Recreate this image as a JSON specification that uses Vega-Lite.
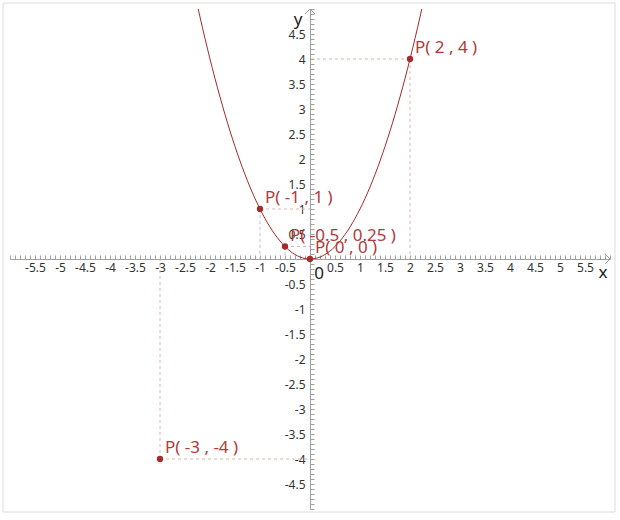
{
  "$schema": "https://vega.github.io/schema/vega-lite/v6.json",
  "width": 600,
  "height": 500,
  "autosize": "none",
  "padding": {"left": 10, "top": 9, "right": 10, "bottom": 11},
  "background": "white",
  "config": {"view": {"stroke": null}, "font": "Noto Sans"},
  "datasets": {
    "curve": [
      {"x": -2.24, "y": 5.0176}, {"x": -2.2, "y": 4.84}, {"x": -2.1, "y": 4.41}, {"x": -2.0, "y": 4.0},
      {"x": -1.9, "y": 3.61}, {"x": -1.8, "y": 3.24}, {"x": -1.7, "y": 2.89}, {"x": -1.6, "y": 2.56},
      {"x": -1.5, "y": 2.25}, {"x": -1.4, "y": 1.96}, {"x": -1.3, "y": 1.69}, {"x": -1.2, "y": 1.44},
      {"x": -1.1, "y": 1.21}, {"x": -1.0, "y": 1.0}, {"x": -0.9, "y": 0.81}, {"x": -0.8, "y": 0.64},
      {"x": -0.7, "y": 0.49}, {"x": -0.6, "y": 0.36}, {"x": -0.5, "y": 0.25}, {"x": -0.4, "y": 0.16},
      {"x": -0.3, "y": 0.09}, {"x": -0.2, "y": 0.04}, {"x": -0.1, "y": 0.01}, {"x": 0.0, "y": 0.0},
      {"x": 0.1, "y": 0.01}, {"x": 0.2, "y": 0.04}, {"x": 0.3, "y": 0.09}, {"x": 0.4, "y": 0.16},
      {"x": 0.5, "y": 0.25}, {"x": 0.6, "y": 0.36}, {"x": 0.7, "y": 0.49}, {"x": 0.8, "y": 0.64},
      {"x": 0.9, "y": 0.81}, {"x": 1.0, "y": 1.0}, {"x": 1.1, "y": 1.21}, {"x": 1.2, "y": 1.44},
      {"x": 1.3, "y": 1.69}, {"x": 1.4, "y": 1.96}, {"x": 1.5, "y": 2.25}, {"x": 1.6, "y": 2.56},
      {"x": 1.7, "y": 2.89}, {"x": 1.8, "y": 3.24}, {"x": 1.9, "y": 3.61}, {"x": 2.0, "y": 4.0},
      {"x": 2.1, "y": 4.41}, {"x": 2.2, "y": 4.84}, {"x": 2.24, "y": 5.0176}
    ],
    "points": [
      {"x": 2, "y": 4, "label": "P( 2 , 4 )"},
      {"x": -1, "y": 1, "label": "P( -1 , 1 )"},
      {"x": -0.5, "y": 0.25, "label": "P( -0.5 , 0.25 )"},
      {"x": 0, "y": 0, "label": "P( 0 , 0 )"},
      {"x": -3, "y": -4, "label": "P( -3 , -4 )"}
    ]
  },
  "layer": [
    {
      "data": {"name": "points"},
      "mark": {"type": "rule", "color": "#dcb4b4", "strokeWidth": 1, "strokeDash": [3, 3]},
      "encoding": {
        "x": {
          "field": "x", "type": "quantitative",
          "scale": {"domain": [-6, 6], "nice": false, "zero": false},
          "axis": {
            "orient": "bottom", "offset": -250, "title": null, "grid": false,
            "tickCount": 120, "tickSize": -4, "tickWidth": 1, "tickColor": "#a0a0a0",
            "domainColor": "#a0a0a0", "domainWidth": 1,
            "labelExpr": "abs(datum.value) > 0.01 && abs(datum.value) < 5.9 && abs(datum.value * 2 - round(datum.value * 2)) < 0.001 ? toString(round(datum.value * 2) / 2) : ''",
            "labelFontSize": 12, "labelColor": "#333333", "labelPadding": 7,
            "labelOverlap": false, "labelFlush": false, "labelBound": false
          }
        },
        "y": {
          "field": "y", "type": "quantitative",
          "scale": {"domain": [-5, 5], "nice": false, "zero": false},
          "axis": {
            "orient": "left", "offset": -300, "title": null, "grid": false,
            "tickCount": 100, "tickSize": -4, "tickWidth": 1, "tickColor": "#a0a0a0",
            "domainColor": "#a0a0a0", "domainWidth": 1,
            "labelExpr": "abs(datum.value) > 0.01 && abs(datum.value) < 4.9 && abs(datum.value * 2 - round(datum.value * 2)) < 0.001 ? toString(round(datum.value * 2) / 2) : ''",
            "labelFontSize": 12, "labelColor": "#333333", "labelPadding": 9,
            "labelOverlap": false, "labelFlush": false, "labelBound": false
          }
        },
        "y2": {"datum": 0}
      }
    },
    {
      "data": {"name": "points"},
      "mark": {"type": "rule", "color": "#dcb4b4", "strokeWidth": 1, "strokeDash": [3, 3]},
      "encoding": {
        "x": {"field": "x", "type": "quantitative"},
        "y": {"field": "y", "type": "quantitative"},
        "x2": {"datum": 0}
      }
    },
    {
      "data": {"values": [{"id": "border"}]},
      "mark": {"type": "rect", "filled": false, "stroke": "#dcdcdc", "strokeWidth": 1},
      "encoding": {
        "x": {"datum": -6.14, "type": "quantitative"},
        "x2": {"datum": 6.1},
        "y": {"datum": 5.12, "type": "quantitative"},
        "y2": {"datum": -5.06}
      }
    },
    {
      "data": {"name": "curve"},
      "mark": {"type": "line", "color": "#a52a2a", "strokeWidth": 1, "interpolate": "monotone", "clip": true},
      "encoding": {
        "x": {"field": "x", "type": "quantitative"},
        "y": {"field": "y", "type": "quantitative"}
      }
    },
    {
      "data": {"name": "points"},
      "mark": {"type": "point", "filled": true, "color": "#a52a2a", "size": 40, "opacity": 1},
      "encoding": {
        "x": {"field": "x", "type": "quantitative"},
        "y": {"field": "y", "type": "quantitative"}
      }
    },
    {
      "data": {"name": "points"},
      "mark": {"type": "text", "align": "left", "baseline": "middle", "dx": 5, "dy": -11, "fontSize": 17, "color": "#b03a3a"},
      "encoding": {
        "x": {"field": "x", "type": "quantitative"},
        "y": {"field": "y", "type": "quantitative"},
        "text": {"field": "label"}
      }
    },
    {
      "data": {"values": [{"id": "xarrow"}]},
      "mark": {"type": "point", "shape": "M-1,-1L0,0L-1,1", "size": 100, "filled": false, "color": "#a0a0a0", "strokeWidth": 1, "opacity": 1},
      "encoding": {
        "x": {"datum": 6, "type": "quantitative"},
        "y": {"datum": 0, "type": "quantitative"}
      }
    },
    {
      "data": {"values": [{"id": "yarrow"}]},
      "mark": {"type": "point", "shape": "M-1,1L0,0L1,1", "size": 100, "filled": false, "color": "#a0a0a0", "strokeWidth": 1, "opacity": 1},
      "encoding": {
        "x": {"datum": 0, "type": "quantitative"},
        "y": {"datum": 5, "type": "quantitative"}
      }
    },
    {
      "data": {"values": [{"id": "origin"}]},
      "mark": {"type": "text", "text": "0", "fontSize": 17, "align": "center", "baseline": "middle", "dx": 9, "dy": 15, "color": "#222222"},
      "encoding": {
        "x": {"datum": 0, "type": "quantitative"},
        "y": {"datum": 0, "type": "quantitative"}
      }
    },
    {
      "data": {"values": [{"id": "xlabel"}]},
      "mark": {"type": "text", "text": "x", "fontSize": 17, "align": "center", "baseline": "middle", "dx": -7, "dy": 14, "color": "#222222"},
      "encoding": {
        "x": {"datum": 6, "type": "quantitative"},
        "y": {"datum": 0, "type": "quantitative"}
      }
    },
    {
      "data": {"values": [{"id": "ylabel"}]},
      "mark": {"type": "text", "text": "y", "fontSize": 17, "align": "center", "baseline": "middle", "dx": -12, "dy": 11, "color": "#222222"},
      "encoding": {
        "x": {"datum": 0, "type": "quantitative"},
        "y": {"datum": 5, "type": "quantitative"}
      }
    }
  ]
}
